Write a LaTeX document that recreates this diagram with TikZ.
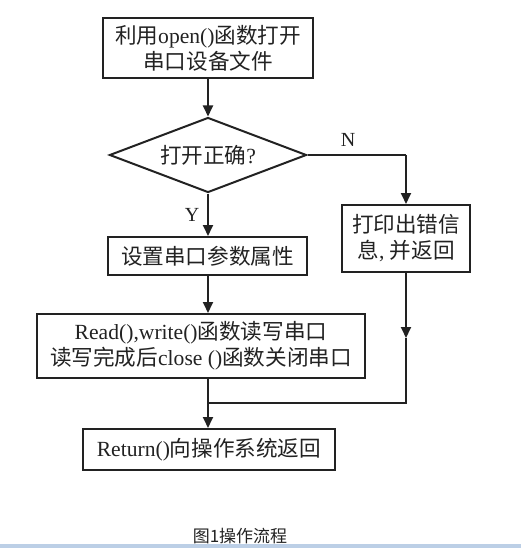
\documentclass[tikz,border=0pt]{standalone}
\usepackage{fontspec}
\setmainfont{Liberation Serif}
\newfontfamily\cjk{Noto Sans CJK SC}
\newcommand\zh[1]{{\cjk #1}}
\usetikzlibrary{arrows.meta,shapes.geometric}
\definecolor{ink}{HTML}{222222}
\definecolor{barblue}{HTML}{BCCFE6}
\tikzset{
  box/.style={draw=ink, line width=2pt, rectangle, inner sep=0pt, align=center, text=ink,
    font=\fontsize{21.6}{26}\selectfont},
  dec/.style={draw=ink, line width=2pt, diamond, inner sep=0pt, aspect=2.6, text=ink,
    font=\fontsize{21.6}{26}\selectfont},
  conn/.style={draw=ink, line width=1.8pt},
  arr/.style={conn, -{Triangle[width=10pt,length=11pt]}},
  lbl/.style={text=ink, font=\fontsize{20}{24}\selectfont, inner sep=0pt}
}
\begin{document}
\begin{tikzpicture}[x=1pt,y=-1pt]
\useasboundingbox (0,0) rectangle (521,548);
\fill[barblue] (0,544) rectangle (521,548);

\node[box, minimum width=210pt, minimum height=60pt] (open) at (208,48)
  {\zh{利用}open()\zh{函数打开}\\\zh{串口设备文件}};
\node[dec, minimum width=197pt, minimum height=75pt] (ok) at (208,155) {\zh{打开正确}?};
\node[box, minimum width=199pt, minimum height=38pt] (set) at (207.5,256) {\zh{设置串口参数属性}};
\node[box, minimum width=128pt, minimum height=67pt] (err) at (406,238.5)
  {\zh{打印出错信}\\\zh{息}, \zh{并返回}};
\node[box, minimum width=328pt, minimum height=64pt] (rw) at (201,346)
  {Read(),write()\zh{函数读写串口}\\\zh{读写完成后}close ()\zh{函数关闭串口}};
\node[box, minimum width=252pt, minimum height=41pt] (ret) at (209,449.5)
  {Return()\zh{向操作系统返回}};

\node[lbl] (Y) at (192,215) {Y};
\node[lbl] (N) at (348,140) {N};
\node[inner sep=0pt, text=ink, font=\cjk\fontsize{17}{20}\selectfont] (cap) at (240,536) {图1操作流程};

\coordinate (nturn) at (406,155);
\coordinate (mid) at (406,338);
\coordinate (merge) at (208,403);

\draw[arr] (open.south -| 208,0) -- (ok.north);
\draw[arr] (ok.south) -- (ok.south |- set.north);
\draw[conn] (ok.east) -- (nturn);
\draw[arr] (nturn) -- (err.north);
\draw[arr] (set.south -| 208,0) -- (208,0 |- rw.north);
\draw[conn] (208,0 |- rw.south) -- (merge);
\draw[arr] (merge) -- (208,0 |- ret.north);
\draw[arr] (err.south) -- (mid);
\draw[conn] (mid) -- (406,403) -- (merge);
\end{tikzpicture}
\end{document}
